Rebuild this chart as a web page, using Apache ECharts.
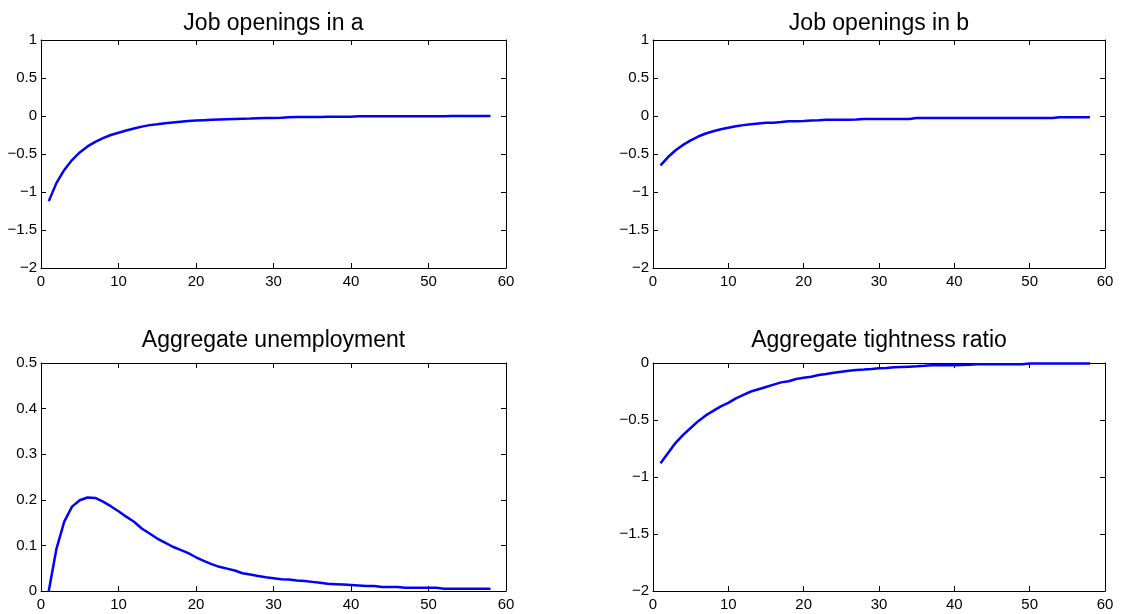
<!DOCTYPE html>
<html>
<head>
<meta charset="utf-8">
<script src="https://cdn.jsdelivr.net/npm/echarts@6/dist/echarts.min.js"></script>
<style>
html,body{margin:0;padding:0;background:#fff;}
#chart{width:1137px;height:614px;}
</style>
</head>
<body>
<div id="chart"></div>
<script>
// Periods (x values)
const periods = [1,2,3,4,5,6,7,8,9,10,11,12,13,14,15,16,17,18,19,20,21,22,23,24,25,26,27,28,29,30,31,32,33,34,35,36,37,38,39,40,41,42,43,44,45,46,47,48,49,50,51,52,53,54,55,56,57,58];

const titles = ["Job openings in a", "Job openings in b", "Aggregate unemployment", "Aggregate tightness ratio"];

const jobOpeningsA = [-1.12,-0.88,-0.71,-0.58,-0.48,-0.40,-0.34,-0.29,-0.25,-0.22,-0.19,-0.165,-0.14,-0.12,-0.11,-0.095,-0.085,-0.075,-0.065,-0.06,-0.055,-0.05,-0.046,-0.042,-0.038,-0.035,-0.033,-0.03,-0.027,-0.025,-0.022,-0.015,-0.014,-0.013,-0.012,-0.012,-0.011,-0.011,-0.01,-0.01,-0.004,-0.004,-0.004,-0.003,-0.003,-0.003,-0.003,-0.002,-0.002,-0.002,-0.002,-0.002,-0.001,-0.001,-0.001,-0.001,-0.001,-0.001];

const jobOpeningsB = [-0.65,-0.54,-0.45,-0.38,-0.32,-0.27,-0.23,-0.20,-0.175,-0.155,-0.135,-0.12,-0.11,-0.10,-0.09,-0.088,-0.08,-0.07,-0.068,-0.065,-0.06,-0.057,-0.05,-0.05,-0.048,-0.048,-0.047,-0.04,-0.04,-0.04,-0.04,-0.04,-0.04,-0.04,-0.025,-0.025,-0.025,-0.025,-0.025,-0.025,-0.025,-0.025,-0.025,-0.025,-0.025,-0.025,-0.025,-0.025,-0.025,-0.025,-0.025,-0.025,-0.025,-0.015,-0.015,-0.015,-0.015,-0.015];

const unemployment = [0,0.093,0.152,0.185,0.199,0.205,0.204,0.196,0.186,0.175,0.163,0.152,0.137,0.126,0.115,0.106,0.097,0.09,0.083,0.074,0.066,0.059,0.053,0.049,0.045,0.039,0.036,0.033,0.030,0.028,0.026,0.025,0.023,0.022,0.020,0.018,0.016,0.015,0.014,0.013,0.012,0.011,0.011,0.009,0.009,0.009,0.007,0.007,0.007,0.007,0.007,0.005,0.005,0.005,0.005,0.005,0.005,0.005];

const tightness = [-0.88,-0.79,-0.70,-0.63,-0.57,-0.51,-0.46,-0.42,-0.38,-0.35,-0.31,-0.28,-0.25,-0.23,-0.21,-0.19,-0.17,-0.16,-0.14,-0.13,-0.12,-0.105,-0.097,-0.085,-0.076,-0.067,-0.061,-0.058,-0.053,-0.047,-0.044,-0.038,-0.035,-0.032,-0.029,-0.025,-0.02,-0.02,-0.02,-0.02,-0.018,-0.015,-0.01,-0.01,-0.01,-0.01,-0.01,-0.01,-0.01,-0.004,-0.004,-0.004,-0.004,-0.004,-0.004,-0.004,-0.004,-0.004];

// Axis ranges (min, max, interval) per panel
const xTicks = [0, 60, 10];
const yRanges = [[-2, 1, 0.5], [-2, 1, 0.5], [0, 0.5, 0.1], [-2, 0, 0.5]];

const seriesValues = [jobOpeningsA, jobOpeningsB, unemployment, tightness];

const grids = [
  {left: 41, top: 40, width: 465, height: 228},
  {left: 653, top: 40, width: 452, height: 228},
  {left: 41, top: 363, width: 465, height: 228},
  {left: 653, top: 363, width: 452, height: 228}
];
const titleTops = [12, 12, 329, 329];

const FONT = '"Liberation Sans", Arial, Helvetica, sans-serif';

function fmt(v) {
  const n = parseFloat(Number(v).toFixed(3));
  return String(n).replace('-', '\u2212');
}

const xAxes = [], yAxes = [], series = [], titleArr = [];
grids.forEach((g, i) => {
  const line = {show: true, onZero: false, lineStyle: {color: '#000', width: 1}};
  const tick = {show: true, inside: true, length: 5, lineStyle: {color: '#000', width: 1}};
  ['bottom', 'top'].forEach((pos, k) => {
    xAxes.push({
      type: 'value', gridIndex: i, position: pos,
      min: xTicks[0], max: xTicks[1], interval: xTicks[2],
      axisLine: line, axisTick: tick, splitLine: {show: false},
      axisLabel: {show: k === 0, color: '#000', fontSize: 15, fontFamily: FONT, margin: 6, formatter: fmt}
    });
  });
  const yr = yRanges[i];
  ['left', 'right'].forEach((pos, k) => {
    yAxes.push({
      type: 'value', gridIndex: i, position: pos,
      min: yr[0], max: yr[1], interval: yr[2],
      axisLine: line, axisTick: tick, splitLine: {show: false},
      axisLabel: {show: k === 0, color: '#000', fontSize: 15, fontFamily: FONT, margin: 4, formatter: fmt}
    });
  });
  series.push({
    type: 'line', xAxisIndex: 2 * i, yAxisIndex: 2 * i,
    data: periods.map((p, j) => [p, seriesValues[i][j]]),
    showSymbol: false, symbol: 'none', smooth: false,
    lineStyle: {color: '#0000ff', width: 2.5},
    itemStyle: {color: '#0000ff'},
    animation: false
  });
  titleArr.push({
    text: titles[i], left: g.left + g.width / 2, top: titleTops[i], textAlign: 'center', padding: 0,
    textStyle: {fontSize: 23, fontWeight: 'normal', color: '#000', fontFamily: FONT}
  });
});

const chart = echarts.init(document.getElementById('chart'), null, {renderer: 'canvas'});
chart.setOption({
  animation: false,
  backgroundColor: '#fff',
  title: titleArr,
  grid: grids,
  xAxis: xAxes,
  yAxis: yAxes,
  series: series
});
</script>
</body>
</html>
